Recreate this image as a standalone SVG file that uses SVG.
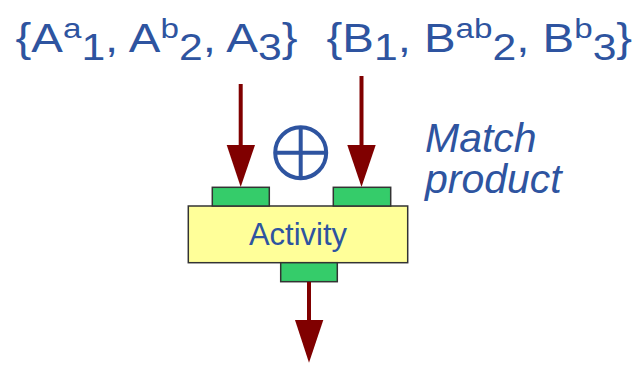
<svg xmlns="http://www.w3.org/2000/svg" width="644" height="368" viewBox="0 0 644 368">
<style>
.t{font-family:"Liberation Sans",Arial,sans-serif;fill:#2E54A0}
.set{font-size:40px}
.sub{font-size:36px}
.sup{font-size:28px}
.port{fill:#35CC6A;stroke:#333;stroke-width:1.5}
.box{fill:#FFFF99;stroke:#333;stroke-width:1.5}
.shaft{stroke:#800000;stroke-width:4;fill:none}
.head{fill:#800000}
</style>
<rect width="644" height="368" fill="#fff"/>
<g id="setA" transform="translate(15.5,0) scale(1.185,1)">
<text class="t set" x="0" y="52">{A<tspan class="sup" dy="-14">a</tspan><tspan class="sub" dy="22">1</tspan><tspan dy="-8">, A</tspan><tspan class="sup" dy="-14">b</tspan><tspan class="sub" dy="22">2</tspan><tspan dy="-8">, A</tspan><tspan class="sub" dy="8">3</tspan><tspan dy="-8">}</tspan></text>
</g>
<g id="setB" transform="translate(326.5,0) scale(1.185,1)">
<text class="t set" x="0" y="52">{B<tspan class="sub" dy="8">1</tspan><tspan dy="-8">, B</tspan><tspan class="sup" dy="-14">ab</tspan><tspan class="sub" dy="22">2</tspan><tspan dy="-8">, B</tspan><tspan class="sup" dy="-14">b</tspan><tspan class="sub" dy="22">3</tspan><tspan dy="-8">}</tspan></text>
</g>
<g id="matchLabel">
<text class="t" font-size="41" font-style="italic" x="425" y="152">Match</text>
<text class="t" font-size="41" font-style="italic" x="425" y="193">product</text>
</g>
<g id="oplus" stroke="#2E54A0" stroke-width="4" fill="none">
<circle cx="300.7" cy="152.7" r="25.5"/>
<line x1="275.2" y1="152.7" x2="326.2" y2="152.7"/>
<line x1="300.7" y1="127.2" x2="300.7" y2="178.2"/>
</g>
<g id="activity">
<rect class="box" x="188.3" y="206" width="219.4" height="56.7"/>
<text class="t" font-size="31" x="298" y="245" text-anchor="middle">Activity</text>
</g>
<g id="portInA"><rect class="port" x="212.3" y="187.3" width="57" height="18.7"/></g>
<g id="portInB"><rect class="port" x="333.3" y="187.3" width="57.4" height="18.7"/></g>
<g id="portOut"><rect class="port" x="280.7" y="262.7" width="56.6" height="19"/></g>
<g id="connectors">
<line class="shaft" x1="240.7" y1="84" x2="240.7" y2="150"/>
<polygon class="head" points="226.7,145 255,145 240.7,187"/>
<line class="shaft" x1="361.5" y1="76" x2="361.5" y2="150"/>
<polygon class="head" points="347.3,145 375.7,145 361.5,187"/>
<line class="shaft" x1="309" y1="282" x2="309" y2="325"/>
<polygon class="head" points="295,320 323.3,320 309,362.7"/>
</g>
</svg>
